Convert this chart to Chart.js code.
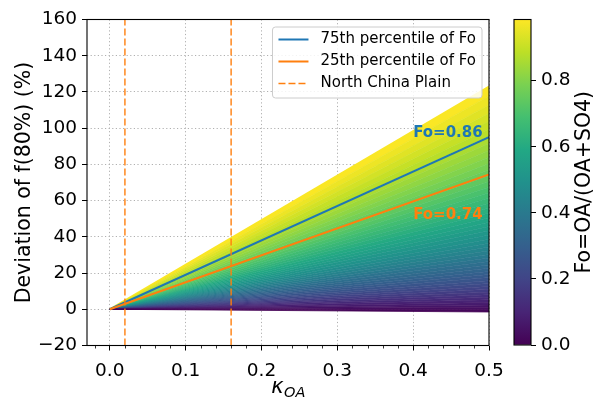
<!DOCTYPE html>
<html><head><meta charset="utf-8">
<script src="https://cdn.jsdelivr.net/npm/chart.js@4.4.0/dist/chart.umd.min.js"></script>
<style>
html,body{margin:0;padding:0;background:#fff;}
#wrap{position:relative;width:594px;height:399px;background:#fff;}
canvas{position:absolute;left:0;top:0;}
</style>
</head><body>
<div id="wrap"><canvas id="main" width="594" height="399"></canvas><canvas id="cbar" width="594" height="399"></canvas></div>
<script>
// ---- data ----
const foLevels = [0.00,0.02,0.04,0.06,0.08,0.10,0.12,0.14,0.16,0.18,0.20,0.22,0.24,0.26,0.28,0.30,0.32,0.34,0.36,0.38,0.40,0.42,0.44,0.46,0.48,0.50,0.52,0.54,0.56,0.58,0.60,0.62,0.64,0.66,0.68,0.70,0.72,0.74,0.76,0.78,0.80,0.82,0.84,0.86,0.88,0.90,0.92,0.94,0.96,0.98];
const fanEnd = [-1.5,-0.2,1.1,2.4,3.8,5.2,6.6,8.0,9.5,11.0,12.6,14.2,15.8,17.5,19.2,20.9,22.7,24.5,26.4,28.3,30.3,32.3,34.4,36.5,38.7,41.0,43.3,45.7,48.1,50.6,53.2,55.9,58.6,61.5,64.4,67.4,70.5,73.7,77.1,80.5,84.0,87.7,91.5,95.5,99.6,103.8,108.2,112.8,117.8,123.0];
const kappaRange = [0, 0.5];
const fanStart = 0;
const percentileLabels = ['75th percentile of Fo', '25th percentile of Fo'];
const percentileEnd = [95.0, 74.5];
const ncpKappa = [0.02, 0.16];
const ncpLabel = 'North China Plain';
const annoText = ['Fo=0.86', 'Fo=0.74'];
const annoPos = [[0.40, 95], [0.40, 50]];
const xLimits = [-0.03, 0.5];
const yLimits = [-20, 160];
const xMinorStep = 0.02;
const cbarRange = [0, 0.985];
const cbarLabel = 'Fo=OA/(OA+SO4)';
const yLabel = 'Deviation of f(80%) (%)';

// ---- styling helpers ----
const FONT = 'DejaVu Sans';
Chart.defaults.font.family = FONT;
const TICK_SIZE = 18.5;
const BLUE = '#1f77b4', ORANGE = '#ff7f0e';
const VIRIDIS = ['#440154','#482475','#414487','#355f8d','#2a788e','#21918c','#22a884','#44bf70','#7ad151','#bddf26','#fde725'];
function hx(h){return [parseInt(h.slice(1,3),16),parseInt(h.slice(3,5),16),parseInt(h.slice(5,7),16)];}
function viridis(t){
  t = Math.max(0, Math.min(1, t));
  const s = t*10, i = Math.min(9, Math.floor(s)), f = s - i;
  const a = hx(VIRIDIS[i]), b = hx(VIRIDIS[i+1]);
  return 'rgb(' + a.map((v,k)=>Math.round(v + (b[k]-v)*f)).join(',') + ')';
}
const fmtNum = (v, d) => { const s = Number(v).toFixed(d); return s.startsWith('-') ? '\u2212' + s.slice(1) : s; };

const fanSets = foLevels.map((fo, i) => ({
  label: 'Fo ' + fo,
  data: [{x: kappaRange[0], y: fanStart}, {x: kappaRange[1], y: fanEnd[i]}],
  borderColor: viridis(fo / cbarRange[1]),
  backgroundColor: viridis(fo / cbarRange[1]),
  borderWidth: i === foLevels.length - 1 ? 2 : 0.8,
  fill: i === 0 ? false : '-1',
  pointRadius: 0,
  order: 10
}));

const overlaySets = [
  {label: percentileLabels[0], data: [{x: kappaRange[0], y: 0}, {x: kappaRange[1], y: percentileEnd[0]}], borderColor: BLUE, borderWidth: 2, pointRadius: 0, fill: false, order: 2, legend: true},
  {label: percentileLabels[1], data: [{x: kappaRange[0], y: 0}, {x: kappaRange[1], y: percentileEnd[1]}], borderColor: ORANGE, borderWidth: 2, pointRadius: 0, fill: false, order: 1, legend: true},
  {label: ncpLabel, data: [{x: ncpKappa[0], y: yLimits[0]}, {x: ncpKappa[0], y: yLimits[1]}], borderColor: ORANGE, borderWidth: 1.4, borderDash: [7, 3], pointRadius: 0, fill: false, order: 0, legend: true},
  {label: ncpLabel + ' 2', data: [{x: ncpKappa[1], y: yLimits[0]}, {x: ncpKappa[1], y: yLimits[1]}], borderColor: ORANGE, borderWidth: 1.4, borderDash: [7, 3], pointRadius: 0, fill: false, order: 0}
];

const mainPlugin = {
  id: 'mainDeco',
  afterDraw(chart) {
    const ctx = chart.ctx, a = chart.chartArea, xs = chart.scales.x, ys = chart.scales.y;
    ctx.save();
    // minor ticks
    ctx.strokeStyle = '#000'; ctx.lineWidth = 0.8;
    const kmin = Math.ceil(xLimits[0] / xMinorStep - 1e-9), kmax = Math.floor(xLimits[1] / xMinorStep + 1e-9);
    for (let k = kmin; k <= kmax; k++) {
      if (k % 5 === 0) continue;
      const px = Math.round(xs.getPixelForValue(k * xMinorStep)) + 0.5;
      ctx.beginPath(); ctx.moveTo(px, a.bottom); ctx.lineTo(px, a.bottom + 3); ctx.stroke();
    }
    // frame
    ctx.lineWidth = 1.1; ctx.strokeStyle = '#000';
    ctx.strokeRect(a.left, a.top, a.right - a.left, a.bottom - a.top);
    // annotations
    ctx.font = 'bold 15px "' + FONT + '"';
    ctx.textBaseline = 'alphabetic'; ctx.textAlign = 'left';
    [BLUE, ORANGE].forEach((c, i) => {
      ctx.fillStyle = c;
      ctx.fillText(annoText[i], xs.getPixelForValue(annoPos[i][0]), ys.getPixelForValue(annoPos[i][1]));
    });
    // legend
    const items = chart.data.datasets.filter(d => d.legend);
    ctx.font = '15px "' + FONT + '"';
    const tw = Math.max(...items.map(d => ctx.measureText(d.label).width));
    const w = 6 + 30 + 12 + tw + 6, h = 71;
    const lx = a.right - 7 - w, ly = a.top + 7.5;
    ctx.beginPath();
    if (ctx.roundRect) ctx.roundRect(lx, ly, w, h, 3); else ctx.rect(lx, ly, w, h);
    ctx.fillStyle = 'rgba(255,255,255,0.85)'; ctx.fill();
    ctx.strokeStyle = '#cccccc'; ctx.lineWidth = 1; ctx.stroke();
    items.forEach((d, i) => {
      const cy = ly + 12.5 + i * 22;
      ctx.strokeStyle = d.borderColor; ctx.lineWidth = d.borderWidth;
      ctx.setLineDash(d.borderDash || []);
      ctx.beginPath(); ctx.moveTo(lx + 6, cy); ctx.lineTo(lx + 36, cy); ctx.stroke();
      ctx.setLineDash([]);
      ctx.fillStyle = '#000'; ctx.textBaseline = 'middle';
      ctx.fillText(d.label, lx + 48, cy);
    });
    // y label
    ctx.font = '20.5px "' + FONT + '"';
    ctx.fillStyle = '#000'; ctx.textAlign = 'center'; ctx.textBaseline = 'alphabetic';
    ctx.save();
    ctx.translate(a.left - 57, (a.top + a.bottom) / 2);
    ctx.rotate(-Math.PI / 2);
    ctx.fillText(yLabel, 0, 0);
    ctx.restore();
    // x label (kappa_OA)
    ctx.font = 'italic 21px "' + FONT + '"';
    const wk = ctx.measureText('κ').width;
    ctx.font = 'italic 14.5px "' + FONT + '"';
    const ws = ctx.measureText('OA').width;
    const cx = (a.left + a.right) / 2 - (wk + ws) / 2;
    ctx.textAlign = 'left';
    ctx.font = 'italic 21px "' + FONT + '"';
    ctx.fillText('κ', cx, a.bottom + 47.5);
    ctx.font = 'italic 14.5px "' + FONT + '"';
    ctx.fillText('OA', cx + wk + 0.5, a.bottom + 51.5);
    ctx.restore();
  }
};

new Chart(document.getElementById('main'), {
  type: 'line',
  data: {datasets: fanSets.concat(overlaySets)},
  options: {
    responsive: false, animation: false, devicePixelRatio: 1,
    layout: {padding: {left: 0, top: 19.5, right: 105, bottom: 0}},
    plugins: {legend: {display: false}, tooltip: {enabled: false}},
    elements: {line: {tension: 0}},
    scales: {
      x: {
        type: 'linear', min: xLimits[0], max: xLimits[1],
        afterFit(s) { s.height = 53.5; },
        ticks: {stepSize: 0.1, includeBounds: false, autoSkip: false, maxRotation: 0,
          callback: v => fmtNum(v, 1), font: {size: TICK_SIZE}, color: '#000', padding: 10},
        grid: {color: '#b0b0b0', lineWidth: 1, tickLength: 5, tickColor: '#000', tickWidth: 1, tickBorderDash: []},
        border: {display: false, dash: [1.2, 2.4]}
      },
      y: {
        type: 'linear', min: yLimits[0], max: yLimits[1],
        afterFit(s) { s.width = 87; },
        ticks: {stepSize: 20, includeBounds: false, callback: v => fmtNum(v, 0), font: {size: TICK_SIZE}, color: '#000', padding: 5},
        grid: {color: '#b0b0b0', lineWidth: 1, tickLength: 5, tickColor: '#000', tickWidth: 1, tickBorderDash: []},
        border: {display: false, dash: [1.2, 2.4]}
      }
    }
  },
  plugins: [mainPlugin]
});

const cbarPlugin = {
  id: 'cbarDeco',
  afterDraw(chart) {
    const ctx = chart.ctx, a = chart.chartArea;
    ctx.save();
    ctx.lineWidth = 1.1; ctx.strokeStyle = '#000';
    ctx.strokeRect(a.left, a.top, a.right - a.left, a.bottom - a.top);
    ctx.font = '20.5px "' + FONT + '"';
    ctx.fillStyle = '#000'; ctx.textAlign = 'center'; ctx.textBaseline = 'alphabetic';
    ctx.translate(a.right + 59, (a.top + a.bottom) / 2);
    ctx.rotate(-Math.PI / 2);
    ctx.fillText(cbarLabel, 0, 0);
    ctx.restore();
  }
};

new Chart(document.getElementById('cbar'), {
  type: 'bar',
  data: {labels: ['Fo'], datasets: [{
    data: [[cbarRange[0], cbarRange[1]]],
    backgroundColor: (c) => {
      const ys = c.chart.scales.y;
      if (!ys || !c.chart.chartArea) return viridis(0.5);
      const g = c.chart.ctx.createLinearGradient(0, ys.getPixelForValue(cbarRange[0]), 0, ys.getPixelForValue(cbarRange[1]));
      VIRIDIS.forEach((col, k) => g.addColorStop(k / 10, col));
      return g;
    },
    borderWidth: 0, barPercentage: 1, categoryPercentage: 1
  }]},
  options: {
    responsive: false, animation: false, devicePixelRatio: 1,
    layout: {padding: {left: 514, right: 0, top: 19.5, bottom: 54}},
    plugins: {legend: {display: false}, tooltip: {enabled: false}},
    scales: {
      x: {display: false},
      y: {
        position: 'right', min: cbarRange[0], max: cbarRange[1],
        afterFit(s) { s.width = 63; },
        ticks: {stepSize: 0.2, includeBounds: false, callback: v => fmtNum(v, 1), font: {size: TICK_SIZE}, color: '#000', padding: 5},
        grid: {drawOnChartArea: false, tickLength: 5, tickColor: '#000', tickWidth: 1},
        border: {display: false}
      }
    }
  },
  plugins: [cbarPlugin]
});
</script>
</body></html>
